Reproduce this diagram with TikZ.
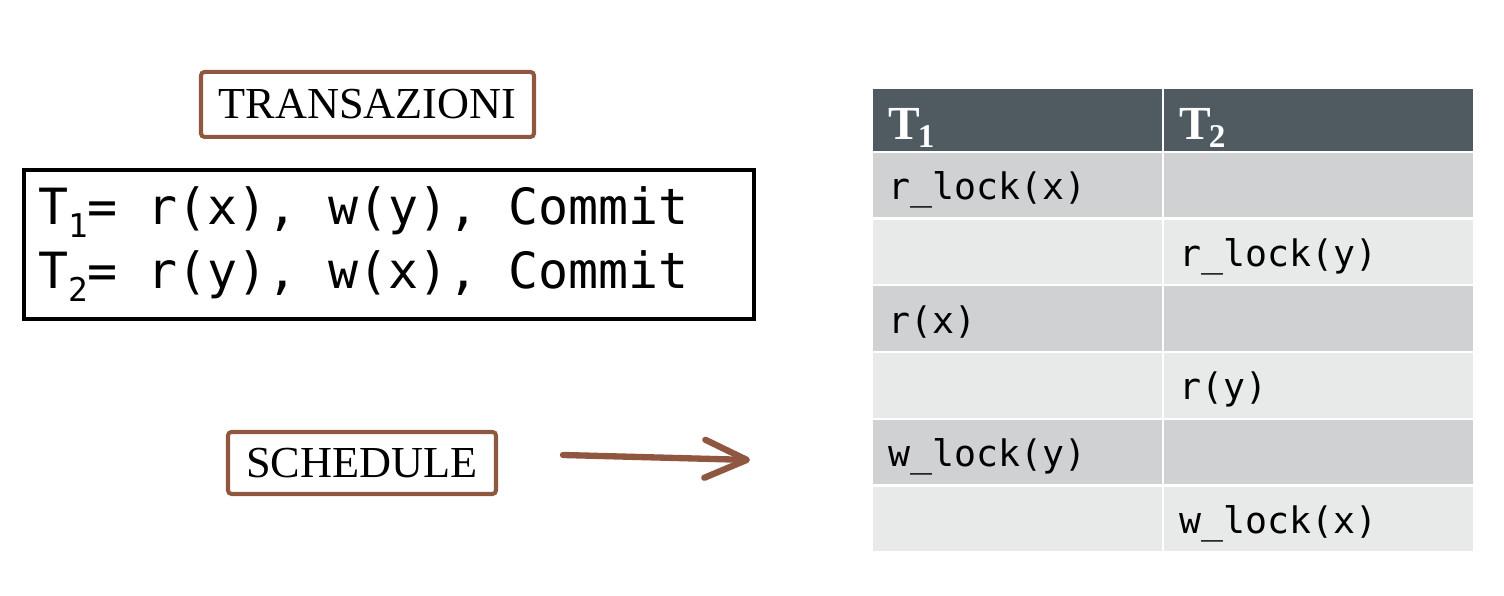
\documentclass[tikz,border=0pt]{standalone}
\usepackage{fontspec}
\setmainfont{Liberation Serif}
\newfontfamily\monofont{DejaVu Sans Mono}
\usetikzlibrary{arrows.meta}
\definecolor{boxbrown}{RGB}{143,86,64}
\definecolor{headgray}{RGB}{80,90,97}
\definecolor{rowdark}{RGB}{208,209,211}
\definecolor{rowlight}{RGB}{232,233,233}
\newcommand{\monosub}[1]{\raisebox{-3.7pt}{\fontsize{9.3}{10}\selectfont #1}}
\newcommand{\monospacing}{\frenchspacing\spaceskip 0.602em\relax}

\begin{document}
\begin{tikzpicture}[
    label box/.style = {draw=boxbrown, line width=1.15pt, rounded corners=1pt,
        font=\fontsize{12.6}{14}\selectfont, inner sep=0pt},
    trans box/.style = {draw=black, line width=1.3pt, align=left,
        font=\monofont\fontsize{14.2}{18.2}\selectfont,
        inner xsep=0.14cm},
    head cell/.style = {fill=headgray, text=white, minimum height=0.62cm,
        font=\fontsize{13.5}{15}\selectfont\bfseries, align=left,
        text height=0.45cm, text depth=0.05cm, inner xsep=0.15cm, inner ysep=0pt},
    cell/.style = {minimum height=0.645cm, align=left, inner xsep=0.15cm,
        text height=0.34cm, text depth=0.05cm, inner ysep=0pt,
        font=\monofont\fontsize{10.4}{12}\selectfont}]
    \useasboundingbox (0,0) rectangle (15.04,5.96);
    % NODES
    % title boxes
    \node[label box, minimum width=3.33cm, minimum height=0.65cm] (trans) at (3.675,4.915) {TRANSAZIONI};
    \node[label box, minimum width=2.68cm, minimum height=0.62cm] (sched) at (3.62,1.33) {SCHEDULE};
    % transactions
    \node[trans box, text width=7.02cm, minimum height=1.49cm] (defs) at (3.89,3.515)
        {\monospacing T\monosub{1}= r(x), w(y), Commit\\T\monosub{2}= r(y), w(x), Commit};
    % table header
    \node[head cell, text width=2.59cm] (h1) at (10.175,4.76) {T\kern-0.04em\textsubscript{1}};
    \node[head cell, text width=2.79cm] (h2) at (13.185,4.76) {T\kern-0.04em\textsubscript{2}};
    % table rows
    \foreach \i/\col/\a/\b in {1/rowdark/{r\_lock(x)}/{}, 2/rowlight/{}/{r\_lock(y)},
        3/rowdark/{r(x)}/{}, 4/rowlight/{}/{r(y)},
        5/rowdark/{w\_lock(y)}/{}, 6/rowlight/{}/{w\_lock(x)}} {
        \pgfmathsetmacro\y{4.11-(\i-1)*0.668}
        \node[cell, fill=\col, text width=2.59cm] (r\i-1) at (10.175,\y) {\a};
        \node[cell, fill=\col, text width=2.79cm] (r\i-2) at (13.185,\y) {\b};
    }

    % ARROW
    \coordinate (arrS) at (5.63,1.41);
    \coordinate (arrE) at (7.50,1.36);
    \draw[draw=boxbrown, line width=1.8pt, line cap=round,
        -{Straight Barb[length=0.42cm, width=0.38cm, line cap=round, line join=round]}] (arrS) -- (arrE);
\end{tikzpicture}
\end{document}
